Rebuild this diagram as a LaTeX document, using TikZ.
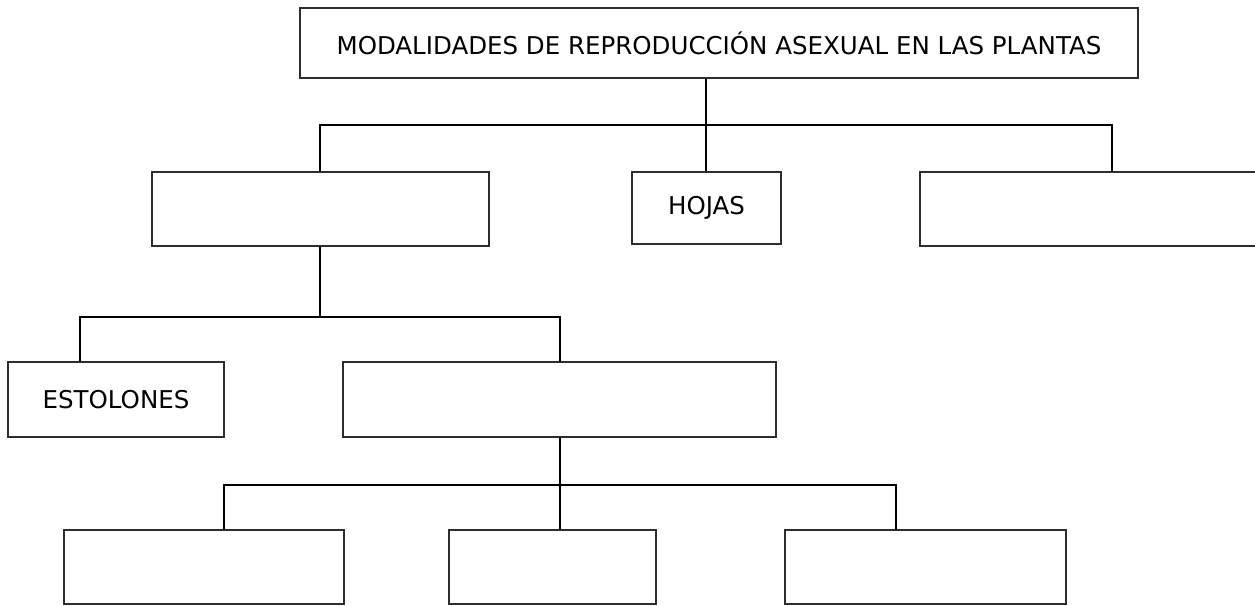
\documentclass[tikz,border=0pt]{standalone}
\usepackage{fontspec}
\setmainfont{DejaVu Sans}
\begin{document}
\begin{tikzpicture}[x=1pt,y=-1pt,
  box/.style={draw={rgb,255:red,45;green,45;blue,45}, line width=1.6pt, fill=white,
    inner sep=0pt, font=\fontsize{24.5}{28}\selectfont},
  conn/.style={draw=black, line width=1.5pt}]
\useasboundingbox (0,0) rectangle (1255,605);
% boxes
\node[box, minimum width=838pt, minimum height=70pt] (top) at (719,43) {MODALIDADES DE REPRODUCCIÓN ASEXUAL EN LAS PLANTAS};
\node[box, minimum width=337pt, minimum height=74pt] (l1) at (320.5,209) {};
\node[box, minimum width=149pt, minimum height=72pt] (hojas) at (706.5,208) {HOJAS};
\node[box, minimum width=345pt, minimum height=74pt] (r1) at (1092.5,209) {};
\node[box, minimum width=216pt, minimum height=75pt] (est) at (116,399.5) {ESTOLONES};
\node[box, minimum width=433pt, minimum height=75pt] (mid) at (559.5,399.5) {};
\node[box, minimum width=280pt, minimum height=74pt] (b1) at (204,567) {};
\node[box, minimum width=207pt, minimum height=74pt] (b2) at (552.5,567) {};
\node[box, minimum width=281pt, minimum height=74pt] (b3) at (925.5,567) {};
% junction coordinates
\coordinate (j1) at (706,125);
\coordinate (j2) at (320,317);
\coordinate (j3) at (560,485);
\coordinate (dr1) at (1112,172);
\coordinate (dm) at (560,362);
\coordinate (db3) at (896,530);
% connectors level 1
\draw[conn] (top.south -| j1) -- (j1);
\draw[conn] (l1.north -| j2) |- (j1) -| (dr1);
\draw[conn] (j1) -- (hojas.north -| j1);
% level 2
\draw[conn] (l1.south -| j2) -- (j2);
\draw[conn] (est.north -| 80,0) |- (j2) -| (dm);
% level 3
\draw[conn] (mid.south -| j3) -- (j3);
\draw[conn] (b1.north -| 224,0) |- (j3) -| (db3);
\draw[conn] (j3) -- (b2.north -| j3);
\end{tikzpicture}
\end{document}
